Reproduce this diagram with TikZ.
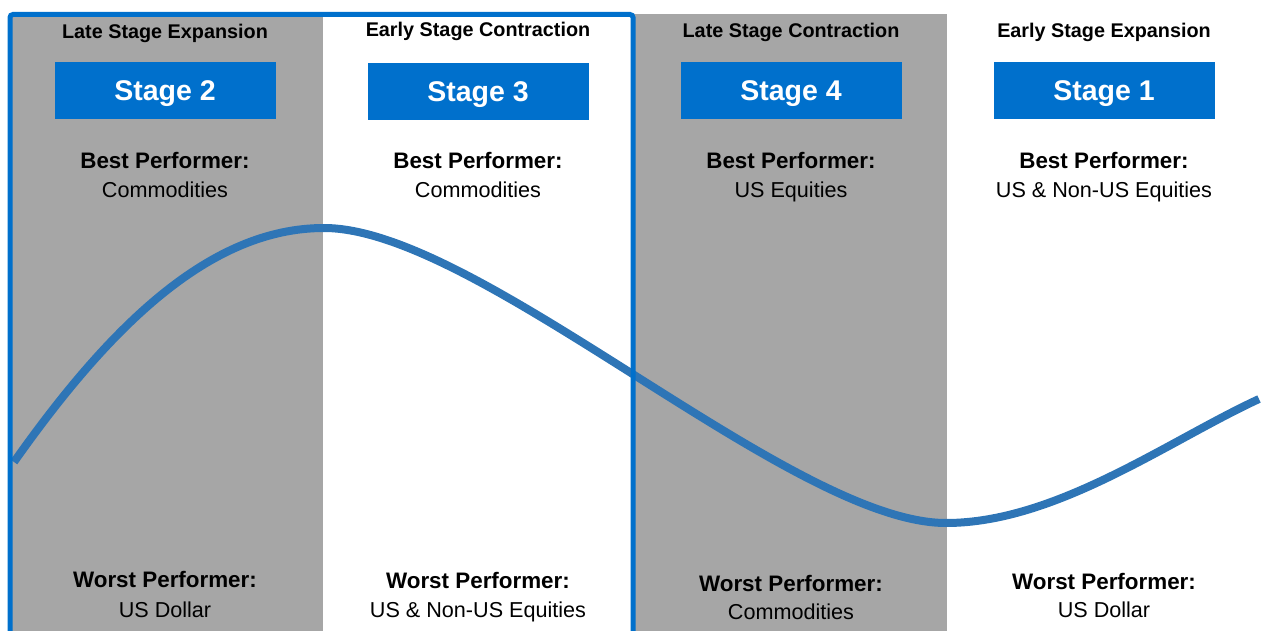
\documentclass[tikz,border=0pt]{standalone}
\usepackage{fontspec}
\setmainfont{Liberation Sans}
\usetikzlibrary{positioning}
\definecolor{phaseGray}{RGB}{166,166,166}
\definecolor{stageBlue}{RGB}{0,112,204}
\definecolor{curveBlue}{RGB}{46,117,182}
\tikzset{stagebox/.style={fill=stageBlue, text=white, font=\fontsize{28.5}{30}\selectfont\bfseries, minimum width=221pt, minimum height=57pt, inner sep=0pt, text depth=0pt}}
\tikzset{phase/.style={font=\fontsize{19.8}{21}\selectfont\bfseries, inner sep=0pt, text depth=0pt}}
\tikzset{perfhead/.style={font=\fontsize{22.4}{24}\selectfont\bfseries, inner sep=0pt, text depth=0pt}}
\tikzset{perfasset/.style={font=\fontsize{21.6}{23}\selectfont, inner sep=0pt, text depth=0pt}}

\begin{document}
\begin{tikzpicture}[x=1pt, y=-1pt]
\useasboundingbox (0,0) rectangle (1264,631);

% Columns
\fill[phaseGray] (10,14) rectangle (323,631);
\fill[phaseGray] (633,14) rectangle (947,631);

% Cycle
\draw[curveBlue, line width=8pt] (14,462) .. controls (110,326) and (210,228) .. (324,228)
  .. controls (479,228) and (791,523) .. (946,523)
  .. controls (1056,523) and (1168,441) .. (1259,399);

% Frame
\draw[stageBlue, line width=5pt, rounded corners=3pt] (10,645) -- (10,14.5) -- (633,14.5) -- (633,645);

% Nodes
\node (phase2) [phase] at (165,31.3) {Late Stage Expansion};
\node (phase3) [phase] at (478,29.5) {Early Stage Contraction};
\node (phase4) [phase] at (791,30.3) {Late Stage Contraction};
\node (phase1) [phase] at (1104,30.3) {Early Stage Expansion};

\node (stage2) [stagebox] at (165,90.5) {Stage 2};
\node (stage3) [stagebox] at (478,91.5) {Stage 3};
\node (stage4) [stagebox] at (791,90.5) {Stage 4};
\node (stage1) [stagebox] at (1104,90.5) {Stage 1};

\node (best2) [perfhead] at (165,160.7) {Best Performer:};
\node (best3) [perfhead] at (478,160.7) {Best Performer:};
\node (best4) [perfhead] at (791,160.7) {Best Performer:};
\node (best1) [perfhead] at (1104,160.7) {Best Performer:};

\node (bestasset2) [perfasset] at (165,190) {Commodities};
\node (bestasset3) [perfasset] at (478,190) {Commodities};
\node (bestasset4) [perfasset] at (791,190) {US Equities};
\node (bestasset1) [perfasset] at (1104,190) {US \& Non-US Equities};

\node (worst2) [perfhead] at (165,579.7) {Worst Performer:};
\node (worst3) [perfhead] at (478,580.8) {Worst Performer:};
\node (worst4) [perfhead] at (791,583.3) {Worst Performer:};
\node (worst1) [perfhead] at (1104,581.7) {Worst Performer:};

\node (worstasset2) [perfasset] at (165,609.5) {US Dollar};
\node (worstasset3) [perfasset] at (478,609.2) {US \& Non-US Equities};
\node (worstasset4) [perfasset] at (791,612) {Commodities};
\node (worstasset1) [perfasset] at (1104,610) {US Dollar};

\end{tikzpicture}
\end{document}
